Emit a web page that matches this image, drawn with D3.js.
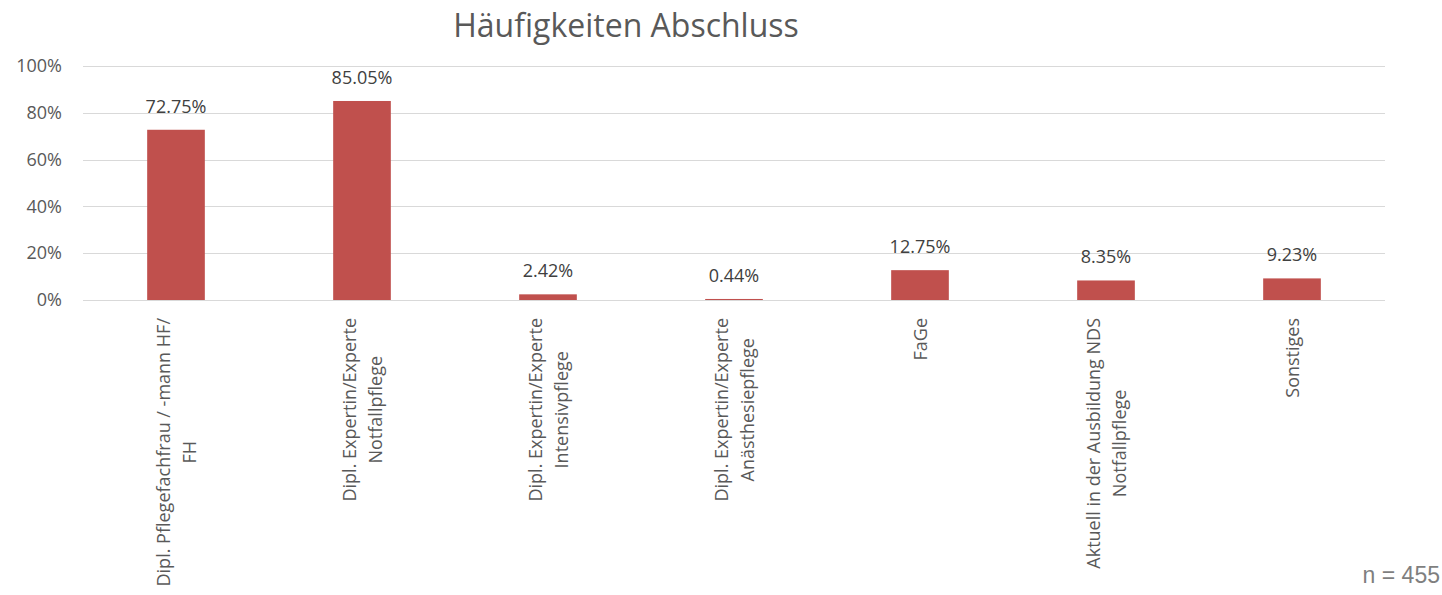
<!DOCTYPE html>
<html>
<head>
<meta charset="utf-8">
<script src="https://cdn.jsdelivr.net/npm/d3@7"></script>
<style>
  body { margin: 0; background: #fff; }
  svg { display: block; font-family: "Open Sans", sans-serif; }
</style>
</head>
<body>
<svg id="chart" width="1442" height="595"></svg>
<script>
// categories (line breaks as in the original)
const categories = [
  ["Dipl. Pflegefachfrau / -mann HF/", "FH"],
  ["Dipl. Expertin/Experte", "Notfallpflege"],
  ["Dipl. Expertin/Experte", "Intensivpflege"],
  ["Dipl. Expertin/Experte", "Anästhesiepflege"],
  ["FaGe"],
  ["Aktuell in der Ausbildung NDS", "Notfallpflege"],
  ["Sonstiges"]
];
const values = [72.75, 85.05, 2.42, 0.44, 12.75, 8.35, 9.23];
const yTicks = [0, 20, 40, 60, 80, 100];
const title = "Häufigkeiten Abschluss";
const note = "n = 455";

const margin = { top: 66, left: 83, right: 57, bottom: 295 };
const W = 1442, H = 595;

const svg = d3.select("#chart");

const x = d3.scaleBand()
  .domain(d3.range(categories.length))
  .range([margin.left, W - margin.right])
  .paddingInner(0.69)
  .paddingOuter(0.345);

const y = d3.scaleLinear()
  .domain([0, 100])
  .range([H - margin.bottom, margin.top]);

// gridlines
svg.append("g")
  .selectAll("line")
  .data(yTicks)
  .join("line")
  .attr("x1", margin.left)
  .attr("x2", W - margin.right)
  .attr("y1", d => Math.round(y(d)) + 0.5)
  .attr("y2", d => Math.round(y(d)) + 0.5)
  .attr("stroke", "#d9d9d9")
  .attr("stroke-width", 1);

// y axis labels
svg.append("g")
  .call(d3.axisLeft(y).tickValues(yTicks).tickFormat(d => d + "%").tickSize(0).tickPadding(0))
  .attr("transform", "translate(62,0)")
  .call(g => g.select(".domain").remove())
  .call(g => g.selectAll("text")
    .attr("font-family", "Open Sans, sans-serif")
    .attr("font-size", 18)
    .attr("fill", "#595959"));

// bars
svg.append("g")
  .attr("fill", "#c0504d")
  .selectAll("rect")
  .data(values)
  .join("rect")
  .attr("x", (d, i) => x(i))
  .attr("y", d => y(d))
  .attr("width", x.bandwidth())
  .attr("height", d => y(0) - y(d));

// value labels
svg.append("g")
  .selectAll("text")
  .data(values)
  .join("text")
  .attr("x", (d, i) => x(i) + x.bandwidth() / 2)
  .attr("y", d => y(d) - 17)
  .attr("text-anchor", "middle")
  .attr("font-size", 18)
  .attr("fill", "#404040")
  .text(d => d.toFixed(2) + "%");

// category labels, rotated, lines centred against each other
const lh = 26;
const cat = svg.append("g")
  .selectAll("g")
  .data(categories)
  .join("g")
  .attr("transform", (d, i) => `translate(${x(i) + x.bandwidth() / 2},318) rotate(-90)`);

cat.each(function (lines) {
  const g = d3.select(this);
  const n = lines.length;
  const texts = g.selectAll("text")
    .data(lines)
    .join("text")
    .attr("text-anchor", "middle")
    .attr("dominant-baseline", "central")
    .attr("font-size", 18)
    .attr("fill", "#595959")
    .attr("y", (d, j) => (j - (n - 1) / 2) * lh)
    .text(d => d);
  const maxLen = d3.max(texts.nodes(), t => t.getComputedTextLength());
  texts.attr("x", -maxLen / 2);
});

// title
svg.append("text")
  .attr("x", 626)
  .attr("y", 37)
  .attr("text-anchor", "middle")
  .attr("font-size", 32)
  .attr("fill", "#595959")
  .text(title);

// sample size
svg.append("text")
  .attr("x", 1440)
  .attr("y", 583)
  .attr("text-anchor", "end")
  .attr("font-family", "Liberation Sans, Arial, sans-serif")
  .attr("font-size", 23)
  .attr("fill", "#7f7f7f")
  .text(note);
</script>
</body>
</html>
